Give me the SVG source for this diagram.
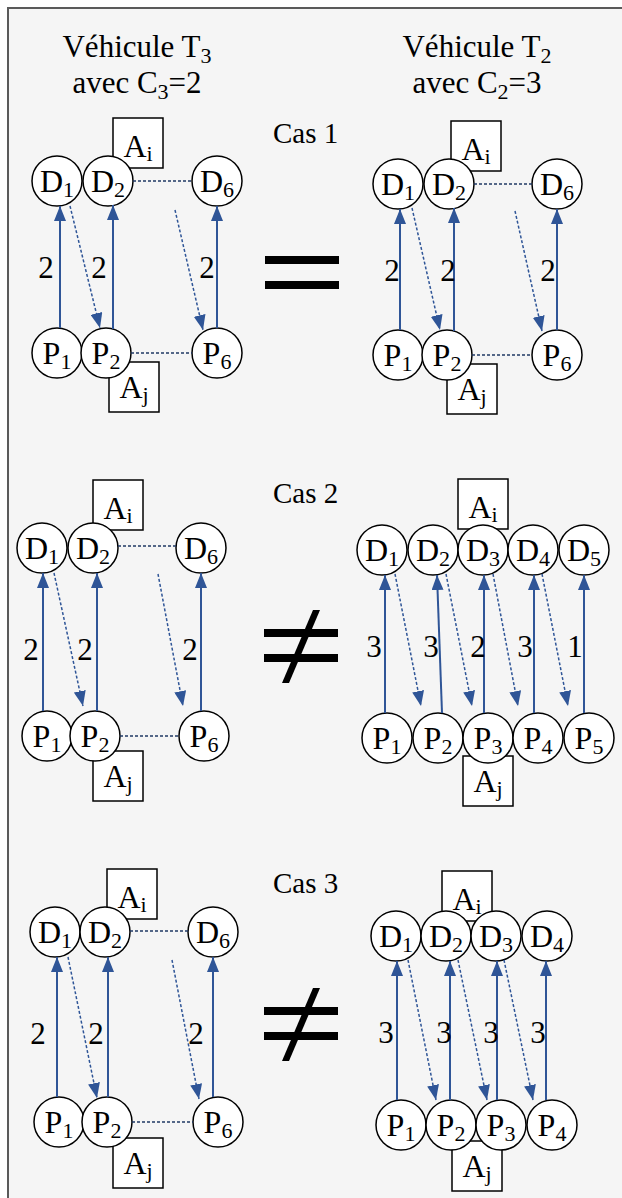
<svg xmlns="http://www.w3.org/2000/svg" width="622" height="1198" viewBox="0 0 622 1198">
<style>
.bg{fill:#f5f5f5;stroke:#5a5a5a;stroke-width:2}
.c{fill:#fff;stroke:#000;stroke-width:1.5}
.b{fill:#fff;stroke:#000;stroke-width:1.5}
.t{font-family:"Liberation Serif","Times New Roman",serif;font-size:32px;fill:#000;text-anchor:middle}
.h{font-family:"Liberation Serif","Times New Roman",serif;font-size:31px;fill:#000;text-anchor:middle}
.s{font-size:22px}
.n{font-family:"Liberation Serif","Times New Roman",serif;font-size:31px;fill:#000;text-anchor:middle}
.cas{font-family:"Liberation Serif","Times New Roman",serif;font-size:29px;fill:#000}
.solid{stroke:#2F5597;stroke-width:2;fill:none;marker-end:url(#ah)}
.dash{stroke:#2F5597;stroke-width:1.5;stroke-dasharray:3 2;fill:none;marker-end:url(#ah)}
.dot{stroke:#1F3864;stroke-width:1.6;stroke-dasharray:3 2;fill:none}
.sym{fill:#000}
</style>
<defs>
<marker id="ah" markerUnits="userSpaceOnUse" markerWidth="16" markerHeight="12" refX="15" refY="6" orient="auto">
<path d="M0,0 L15,6 L0,12 z" fill="#2F5597"/>
</marker>
</defs>
<rect class="bg" x="8" y="8" width="630" height="1200"/>

<g id="headers">
<text class="h" x="137" y="57">Véhicule T<tspan class="s" dy="6">3</tspan></text>
<text class="h" x="137" y="93">avec C<tspan class="s" dy="6">3</tspan><tspan dy="-6">=2</tspan></text>
<text class="h" x="477" y="57">Véhicule T<tspan class="s" dy="6">2</tspan></text>
<text class="h" x="477" y="93">avec C<tspan class="s" dy="6">2</tspan><tspan dy="-6">=3</tspan></text>
</g>

<g id="cas-labels">
<text class="cas" x="273" y="143">Cas 1</text>
<text class="cas" x="273" y="503">Cas 2</text>
<text class="cas" x="273" y="893">Cas 3</text>
</g>

<g id="symbols">
<rect class="sym" x="265" y="256" width="74" height="8"/>
<rect class="sym" x="265" y="281" width="74" height="8"/>
<g id="neq2">
<rect class="sym" x="264" y="629" width="74" height="8"/>
<rect class="sym" x="264" y="654" width="74" height="8"/>
<polygon class="sym" points="313,610 320,610 289,683 282,683"/>
</g>
<g id="neq3">
<rect class="sym" x="264" y="1007" width="74" height="8"/>
<rect class="sym" x="264" y="1032" width="74" height="8"/>
<polygon class="sym" points="313,988 320,988 289,1061 282,1061"/>
</g>
</g>

<!-- ===== Case 1 left ===== -->
<g id="c1L-Ai"><rect class="b" x="113" y="118" width="50" height="50"/><text class="t" x="138" y="157">A<tspan class="s" dy="4">i</tspan></text></g>
<g id="c1L-Aj"><rect class="b" x="109" y="362" width="50" height="50"/><text class="t" x="134" y="398">A<tspan class="s" dy="4">j</tspan></text></g>
<g id="c1L-D1"><circle class="c" cx="57" cy="181" r="25"/><text class="t" x="57" y="192">D<tspan class="s" dy="5">1</tspan></text></g>
<g id="c1L-D2"><circle class="c" cx="108" cy="181" r="25"/><text class="t" x="108" y="192">D<tspan class="s" dy="5">2</tspan></text></g>
<g id="c1L-D6"><circle class="c" cx="217" cy="181" r="25"/><text class="t" x="217" y="192">D<tspan class="s" dy="5">6</tspan></text></g>
<g id="c1L-P1"><circle class="c" cx="57" cy="353" r="25"/><text class="t" x="57" y="364">P<tspan class="s" dy="5">1</tspan></text></g>
<g id="c1L-P2"><circle class="c" cx="106" cy="353" r="25"/><text class="t" x="106" y="364">P<tspan class="s" dy="5">2</tspan></text></g>
<g id="c1L-P6"><circle class="c" cx="217" cy="353" r="25"/><text class="t" x="217" y="364">P<tspan class="s" dy="5">6</tspan></text></g>

<!-- ===== Case 1 right ===== -->
<g id="c1R-Ai"><rect class="b" x="451" y="121" width="50" height="50"/><text class="t" x="476" y="160">A<tspan class="s" dy="4">i</tspan></text></g>
<g id="c1R-Aj"><rect class="b" x="447" y="364" width="50" height="50"/><text class="t" x="472" y="400">A<tspan class="s" dy="4">j</tspan></text></g>
<g id="c1R-D1"><circle class="c" cx="398" cy="184" r="25"/><text class="t" x="398" y="195">D<tspan class="s" dy="5">1</tspan></text></g>
<g id="c1R-D2"><circle class="c" cx="449" cy="184" r="25"/><text class="t" x="449" y="195">D<tspan class="s" dy="5">2</tspan></text></g>
<g id="c1R-D6"><circle class="c" cx="557" cy="184" r="25"/><text class="t" x="557" y="195">D<tspan class="s" dy="5">6</tspan></text></g>
<g id="c1R-P1"><circle class="c" cx="398" cy="355" r="25"/><text class="t" x="398" y="366">P<tspan class="s" dy="5">1</tspan></text></g>
<g id="c1R-P2"><circle class="c" cx="447" cy="355" r="25"/><text class="t" x="447" y="366">P<tspan class="s" dy="5">2</tspan></text></g>
<g id="c1R-P6"><circle class="c" cx="557" cy="355" r="25"/><text class="t" x="557" y="366">P<tspan class="s" dy="5">6</tspan></text></g>

<!-- ===== Case 2 left ===== -->
<g id="c2L-Ai"><rect class="b" x="93" y="480" width="50" height="50"/><text class="t" x="118" y="519">A<tspan class="s" dy="4">i</tspan></text></g>
<g id="c2L-Aj"><rect class="b" x="93" y="751" width="50" height="50"/><text class="t" x="118" y="787">A<tspan class="s" dy="4">j</tspan></text></g>
<g id="c2L-D1"><circle class="c" cx="42" cy="548" r="25"/><text class="t" x="42" y="559">D<tspan class="s" dy="5">1</tspan></text></g>
<g id="c2L-D2"><circle class="c" cx="93" cy="548" r="25"/><text class="t" x="93" y="559">D<tspan class="s" dy="5">2</tspan></text></g>
<g id="c2L-D6"><circle class="c" cx="201" cy="548" r="25"/><text class="t" x="201" y="559">D<tspan class="s" dy="5">6</tspan></text></g>
<g id="c2L-P1"><circle class="c" cx="47" cy="736" r="25"/><text class="t" x="47" y="747">P<tspan class="s" dy="5">1</tspan></text></g>
<g id="c2L-P2"><circle class="c" cx="95" cy="736" r="25"/><text class="t" x="95" y="747">P<tspan class="s" dy="5">2</tspan></text></g>
<g id="c2L-P6"><circle class="c" cx="204" cy="736" r="25"/><text class="t" x="204" y="747">P<tspan class="s" dy="5">6</tspan></text></g>

<!-- ===== Case 2 right ===== -->
<g id="c2R-Ai"><rect class="b" x="458" y="479" width="50" height="50"/><text class="t" x="483" y="518">A<tspan class="s" dy="4">i</tspan></text></g>
<g id="c2R-Aj"><rect class="b" x="463" y="756" width="50" height="50"/><text class="t" x="488" y="792">A<tspan class="s" dy="4">j</tspan></text></g>
<g id="c2R-D1"><circle class="c" cx="382" cy="550" r="25"/><text class="t" x="382" y="561">D<tspan class="s" dy="5">1</tspan></text></g>
<g id="c2R-D2"><circle class="c" cx="433" cy="550" r="25"/><text class="t" x="433" y="561">D<tspan class="s" dy="5">2</tspan></text></g>
<g id="c2R-D3"><circle class="c" cx="483" cy="550" r="25"/><text class="t" x="483" y="561">D<tspan class="s" dy="5">3</tspan></text></g>
<g id="c2R-D4"><circle class="c" cx="533" cy="550" r="25"/><text class="t" x="533" y="561">D<tspan class="s" dy="5">4</tspan></text></g>
<g id="c2R-D5"><circle class="c" cx="584" cy="550" r="25"/><text class="t" x="584" y="561">D<tspan class="s" dy="5">5</tspan></text></g>
<g id="c2R-P1"><circle class="c" cx="387" cy="738" r="25"/><text class="t" x="387" y="749">P<tspan class="s" dy="5">1</tspan></text></g>
<g id="c2R-P2"><circle class="c" cx="438" cy="738" r="25"/><text class="t" x="438" y="749">P<tspan class="s" dy="5">2</tspan></text></g>
<g id="c2R-P3"><circle class="c" cx="488" cy="738" r="25"/><text class="t" x="488" y="749">P<tspan class="s" dy="5">3</tspan></text></g>
<g id="c2R-P4"><circle class="c" cx="538" cy="738" r="25"/><text class="t" x="538" y="749">P<tspan class="s" dy="5">4</tspan></text></g>
<g id="c2R-P5"><circle class="c" cx="589" cy="738" r="25"/><text class="t" x="589" y="749">P<tspan class="s" dy="5">5</tspan></text></g>

<!-- ===== Case 3 left ===== -->
<g id="c3L-Ai"><rect class="b" x="107" y="869" width="50" height="50"/><text class="t" x="132" y="908">A<tspan class="s" dy="4">i</tspan></text></g>
<g id="c3L-Aj"><rect class="b" x="113" y="1138" width="50" height="50"/><text class="t" x="138" y="1174">A<tspan class="s" dy="4">j</tspan></text></g>
<g id="c3L-D1"><circle class="c" cx="55" cy="932" r="25"/><text class="t" x="55" y="943">D<tspan class="s" dy="5">1</tspan></text></g>
<g id="c3L-D2"><circle class="c" cx="105" cy="932" r="25"/><text class="t" x="105" y="943">D<tspan class="s" dy="5">2</tspan></text></g>
<g id="c3L-D6"><circle class="c" cx="213" cy="932" r="25"/><text class="t" x="213" y="943">D<tspan class="s" dy="5">6</tspan></text></g>
<g id="c3L-P1"><circle class="c" cx="59" cy="1122" r="25"/><text class="t" x="59" y="1133">P<tspan class="s" dy="5">1</tspan></text></g>
<g id="c3L-P2"><circle class="c" cx="107" cy="1122" r="25"/><text class="t" x="107" y="1133">P<tspan class="s" dy="5">2</tspan></text></g>
<g id="c3L-P6"><circle class="c" cx="218" cy="1122" r="25"/><text class="t" x="218" y="1133">P<tspan class="s" dy="5">6</tspan></text></g>

<!-- ===== Case 3 right ===== -->
<g id="c3R-Ai"><rect class="b" x="442" y="871" width="50" height="50"/><text class="t" x="467" y="910">A<tspan class="s" dy="4">i</tspan></text></g>
<g id="c3R-Aj"><rect class="b" x="452" y="1141" width="50" height="50"/><text class="t" x="477" y="1177">A<tspan class="s" dy="4">j</tspan></text></g>
<g id="c3R-D1"><circle class="c" cx="396" cy="936" r="25"/><text class="t" x="396" y="947">D<tspan class="s" dy="5">1</tspan></text></g>
<g id="c3R-D2"><circle class="c" cx="446" cy="936" r="25"/><text class="t" x="446" y="947">D<tspan class="s" dy="5">2</tspan></text></g>
<g id="c3R-D3"><circle class="c" cx="496" cy="936" r="25"/><text class="t" x="496" y="947">D<tspan class="s" dy="5">3</tspan></text></g>
<g id="c3R-D4"><circle class="c" cx="547" cy="936" r="25"/><text class="t" x="547" y="947">D<tspan class="s" dy="5">4</tspan></text></g>
<g id="c3R-P1"><circle class="c" cx="401" cy="1125" r="25"/><text class="t" x="401" y="1136">P<tspan class="s" dy="5">1</tspan></text></g>
<g id="c3R-P2"><circle class="c" cx="451" cy="1125" r="25"/><text class="t" x="451" y="1136">P<tspan class="s" dy="5">2</tspan></text></g>
<g id="c3R-P3"><circle class="c" cx="501" cy="1125" r="25"/><text class="t" x="501" y="1136">P<tspan class="s" dy="5">3</tspan></text></g>
<g id="c3R-P4"><circle class="c" cx="552" cy="1125" r="25"/><text class="t" x="552" y="1136">P<tspan class="s" dy="5">4</tspan></text></g>

<g id="connectors">
<!-- case 1 left -->
<line class="solid" x1="60" y1="328" x2="60" y2="206"/>
<line class="solid" x1="113" y1="329" x2="113" y2="205"/>
<line class="solid" x1="217" y1="328" x2="217" y2="206"/>
<line class="dash" x1="70" y1="206" x2="100" y2="328"/>
<line class="dash" x1="175" y1="210" x2="203" y2="330"/>
<line class="dot" x1="133" y1="181" x2="192" y2="181"/>
<line class="dot" x1="131" y1="353" x2="192" y2="353"/>
<!-- case 1 right -->
<line class="solid" x1="400" y1="330" x2="400" y2="209"/>
<line class="solid" x1="454" y1="331" x2="454" y2="208"/>
<line class="solid" x1="557" y1="330" x2="557" y2="209"/>
<line class="dash" x1="412" y1="208" x2="440" y2="330"/>
<line class="dash" x1="515" y1="211" x2="542" y2="331"/>
<line class="dot" x1="474" y1="184" x2="532" y2="184"/>
<line class="dot" x1="472" y1="355" x2="532" y2="355"/>
<!-- case 2 left -->
<line class="solid" x1="43" y1="711" x2="43" y2="573"/>
<line class="solid" x1="97" y1="711" x2="97" y2="573"/>
<line class="solid" x1="201" y1="711" x2="201" y2="573"/>
<line class="dash" x1="54" y1="573" x2="83" y2="706"/>
<line class="dash" x1="158" y1="574" x2="183" y2="706"/>
<line class="dot" x1="118" y1="546" x2="176" y2="546"/>
<line class="dot" x1="120" y1="736" x2="179" y2="736"/>
<!-- case 2 right -->
<line class="solid" x1="385" y1="713" x2="385" y2="575"/>
<line class="solid" x1="442" y1="713" x2="437" y2="575"/>
<line class="solid" x1="484" y1="713" x2="484" y2="575"/>
<line class="solid" x1="534" y1="713" x2="534" y2="575"/>
<line class="solid" x1="584" y1="713" x2="584" y2="575"/>
<line class="dash" x1="395" y1="574" x2="421" y2="706"/>
<line class="dash" x1="446" y1="574" x2="472" y2="706"/>
<line class="dash" x1="493" y1="574" x2="518" y2="706"/>
<line class="dash" x1="542" y1="574" x2="568" y2="706"/>
<!-- case 3 left -->
<line class="solid" x1="57" y1="1097" x2="57" y2="957"/>
<line class="solid" x1="108" y1="1097" x2="108" y2="957"/>
<line class="solid" x1="213" y1="1097" x2="213" y2="957"/>
<line class="dash" x1="68" y1="957" x2="97" y2="1098"/>
<line class="dash" x1="172" y1="960" x2="199" y2="1099"/>
<line class="dot" x1="130" y1="931" x2="188" y2="931"/>
<line class="dot" x1="132" y1="1122" x2="193" y2="1122"/>
<!-- case 3 right -->
<line class="solid" x1="397" y1="1100" x2="397" y2="961"/>
<line class="solid" x1="450" y1="1100" x2="450" y2="961"/>
<line class="solid" x1="497" y1="1100" x2="497" y2="961"/>
<line class="solid" x1="546" y1="1100" x2="546" y2="961"/>
<line class="dash" x1="408" y1="960" x2="436" y2="1100"/>
<line class="dash" x1="458" y1="960" x2="487" y2="1100"/>
<line class="dash" x1="504" y1="960" x2="533" y2="1100"/>
</g>

<g id="edge-labels">
<text class="n" x="46" y="278">2</text>
<text class="n" x="99" y="278">2</text>
<text class="n" x="207" y="278">2</text>
<text class="n" x="392" y="281">2</text>
<text class="n" x="448" y="281">2</text>
<text class="n" x="548" y="281">2</text>
<text class="n" x="31" y="660">2</text>
<text class="n" x="85" y="660">2</text>
<text class="n" x="190" y="660">2</text>
<text class="n" x="374" y="657">3</text>
<text class="n" x="431" y="657">3</text>
<text class="n" x="478" y="657">2</text>
<text class="n" x="525" y="657">3</text>
<text class="n" x="575" y="657">1</text>
<text class="n" x="38" y="1044">2</text>
<text class="n" x="96" y="1044">2</text>
<text class="n" x="196" y="1044">2</text>
<text class="n" x="386" y="1043">3</text>
<text class="n" x="444" y="1043">3</text>
<text class="n" x="491" y="1043">3</text>
<text class="n" x="538" y="1043">3</text>
</g>
</svg>
